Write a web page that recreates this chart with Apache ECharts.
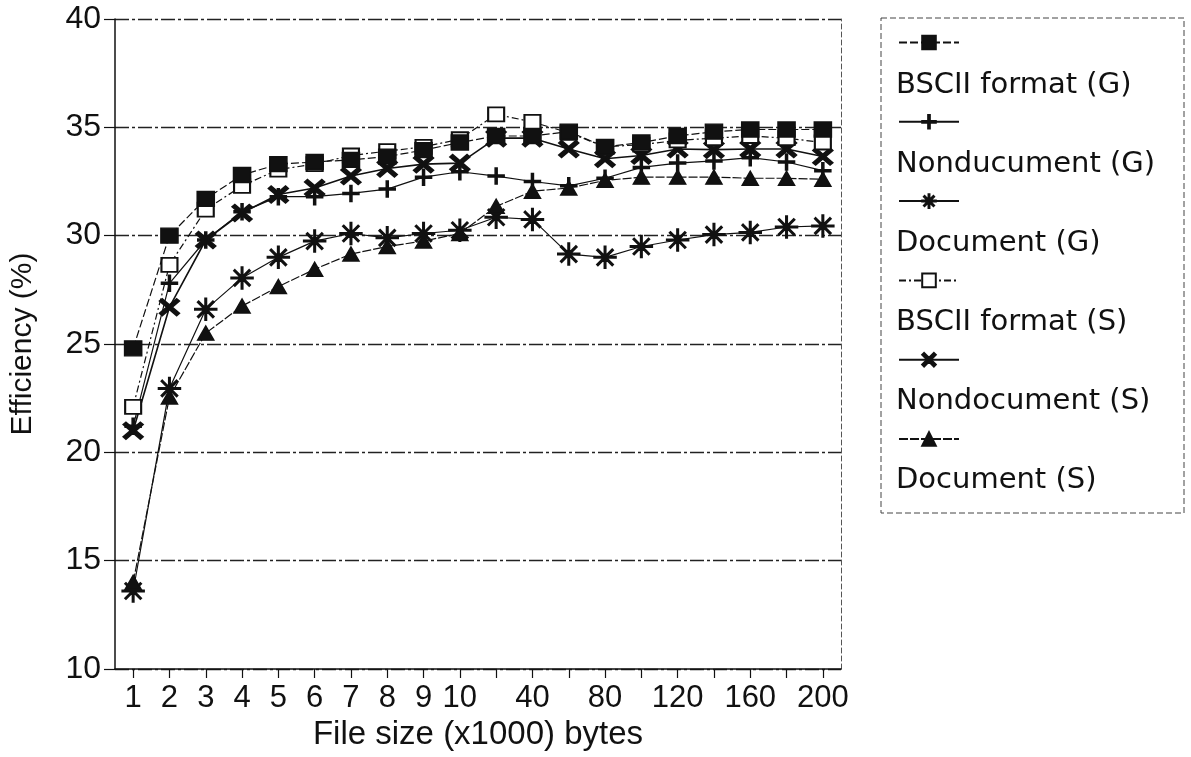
<!DOCTYPE html>
<html>
<head>
<meta charset="utf-8">
<script src="https://cdn.jsdelivr.net/npm/echarts@6/dist/echarts.min.js"></script>
<style>
  html, body { margin: 0; padding: 0; background: #fff; }
  #chart { width: 1191px; height: 757px; }
</style>
</head>
<body>
<div id="chart"></div>
<script>
// File sizes (x1000 bytes) used as categories on the horizontal axis
const fileSizes = ['1', '2', '3', '4', '5', '6', '7', '8', '9', '10',
                   '20', '40', '60', '80', '100', '120', '140', '160', '180', '200'];
// Sizes whose tick label is printed
const shownSizeLabels = ['1', '2', '3', '4', '5', '6', '7', '8', '9', '10',
                         '40', '80', '120', '160', '200'];

const seriesNames = ['BSCII format (G)', 'Nonducument (G)', 'Document (G)',
                     'BSCII format (S)', 'Nondocument (S)', 'Document (S)'];

// Efficiency (%) per file size
const bsciiG = [24.8, 30.0, 31.7, 32.8, 33.3, 33.4, 33.5, 33.65, 33.95, 34.3,
                34.6, 34.6, 34.8, 34.1, 34.3, 34.6, 34.8, 34.9, 34.9, 34.9];
const nondocG = [21.2, 27.8, 29.8, 31.1, 31.8, 31.8, 31.95, 32.15, 32.7, 32.95,
                 32.75, 32.5, 32.3, 32.65, 33.15, 33.35, 33.45, 33.6, 33.4, 33.0];
const docG = [13.6, 22.95, 26.6, 28.05, 29.0, 29.75, 30.1, 29.9, 30.1, 30.25,
              30.85, 30.75, 29.15, 29.0, 29.5, 29.8, 30.05, 30.15, 30.4, 30.45];
const bsciiS = [22.1, 28.65, 31.2, 32.3, 33.05, 33.3, 33.7, 33.9, 34.1, 34.45,
                35.6, 35.25, 34.75, 34.1, 34.2, 34.4, 34.5, 34.6, 34.5, 34.3];
const nondocS = [21.0, 26.7, 29.8, 31.05, 31.9, 32.2, 32.75, 33.1, 33.3, 33.35,
                 34.5, 34.5, 34.0, 33.55, 33.7, 34.0, 33.97, 34.0, 34.0, 33.65];
const docS = [14.0, 22.55, 25.5, 26.75, 27.65, 28.45, 29.15, 29.5, 29.75, 30.1,
              31.35, 32.05, 32.2, 32.55, 32.7, 32.7, 32.7, 32.65, 32.65, 32.6];

// Marker shapes
const plusPath = 'path://M7,0H9V7H16V9H9V16H7V9H0V7H7Z';
const asteriskPath = 'path://M0,9.3L20,9.3L20,10.7L0,10.7Z M9.3,0L10.7,0L10.7,20L9.3,20Z ' +
  'M3.5,2.5L17.5,16.5L16.5,17.5L2.5,3.5Z M16.5,2.5L17.5,3.5L3.5,17.5L2.5,16.5Z';
const crossPath = 'path://M3.3,0.7L19.3,16.7L16.7,19.3L0.7,3.3Z M16.7,0.7L19.3,3.3L3.3,19.3L0.7,16.7Z';

const ink = '#111';

function makeSeries(name, data, symbol, symbolSize, lineType, lineWidth, z) {
  return {
    name: name,
    type: 'line',
    data: data,
    symbol: symbol,
    symbolSize: symbolSize,
    showAllSymbol: true,
    z: z,
    itemStyle: { color: ink, borderColor: ink, borderWidth: 1.5 },
    lineStyle: { color: ink, width: lineWidth, type: lineType },
    emphasis: { disabled: true },
    animation: false
  };
}

const chart = echarts.init(document.getElementById('chart'), null, { renderer: 'canvas' });

const axisFont = 'Liberation Sans, Arial, sans-serif';

chart.setOption({
  backgroundColor: '#fff',
  animation: false,
  grid: { left: 115, right: 350, top: 19, bottom: 88, containLabel: false },
  legend: [
    {
      // marker rows
      data: seriesNames,
      orient: 'vertical',
      left: 898,
      top: 34,
      padding: 0,
      itemWidth: 60,
      itemHeight: 17,
      itemGap: 63,
      formatter: function () { return ''; },
      textStyle: { fontSize: 1 },
      selectedMode: false
    },
    {
      // name rows
      data: seriesNames,
      orient: 'vertical',
      left: 891,
      top: 69,
      padding: 0,
      icon: 'none',
      itemWidth: 0,
      itemHeight: 0,
      itemGap: 47,
      selectedMode: false,
      textStyle: {
        fontFamily: 'DejaVu Sans, sans-serif',
        fontSize: 29,
        lineHeight: 32,
        color: ink
      }
    }
  ],
  graphic: [
    {
      type: 'rect',
      shape: { x: 881, y: 18, width: 303, height: 495 },
      style: { fill: 'none', stroke: '#444', lineWidth: 1, lineDash: [6, 3] },
      silent: true
    }
  ],
  xAxis: {
    type: 'category',
    data: fileSizes,
    boundaryGap: true,
    name: 'File size (x1000) bytes',
    nameLocation: 'middle',
    nameGap: 49,
    nameTextStyle: { fontFamily: axisFont, fontSize: 33, color: ink },
    axisLine: { show: true, lineStyle: { color: ink, width: 1.5 } },
    axisTick: { show: true, alignWithLabel: true, interval: 0, length: 9, lineStyle: { color: ink, width: 1.2 } },
    axisLabel: {
      interval: function (index, value) { return shownSizeLabels.indexOf(value) >= 0; },
      fontFamily: axisFont,
      fontSize: 31,
      color: ink,
      margin: 14
    },
    splitLine: { show: false }
  },
  yAxis: [
    {
      type: 'value',
      min: 10,
      max: 40,
      interval: 5,
      name: 'Efficiency (%)',
      nameLocation: 'middle',
      nameGap: 77,
      nameTextStyle: { fontFamily: axisFont, fontSize: 30, color: ink },
      axisLine: { show: true, lineStyle: { color: ink, width: 1.5 } },
      axisTick: { show: true, length: 11, lineStyle: { color: ink, width: 1.2 } },
      axisLabel: { fontFamily: axisFont, fontSize: 32, color: ink, margin: 14 },
      splitLine: { show: true, lineStyle: { color: '#222', width: 1.3, type: [14, 3, 3, 3] } }
    },
    {
      type: 'value',
      min: 10,
      max: 40,
      interval: 5,
      position: 'right',
      axisLine: { show: true, lineStyle: { color: '#555', width: 1, type: [5, 3] } },
      axisTick: { show: false },
      axisLabel: { show: false },
      splitLine: { show: false }
    }
  ],
  series: [
    makeSeries(seriesNames[0], bsciiG, 'rect', [17, 15], [8, 3], 1.2, 5),
    makeSeries(seriesNames[1], nondocG, plusPath, 16, 'solid', 1.2, 3),
    makeSeries(seriesNames[2], docG, asteriskPath, 22, 'solid', 1.2, 3),
    makeSeries(seriesNames[3], bsciiS, 'emptyRect', [16, 14], [7, 3, 2, 3], 1.2, 4),
    makeSeries(seriesNames[4], nondocS, crossPath, [20, 17], 'solid', 1.6, 3),
    makeSeries(seriesNames[5], docS, 'triangle', [16, 14], [9, 2], 1.2, 3)
  ]
});
</script>
</body>
</html>
